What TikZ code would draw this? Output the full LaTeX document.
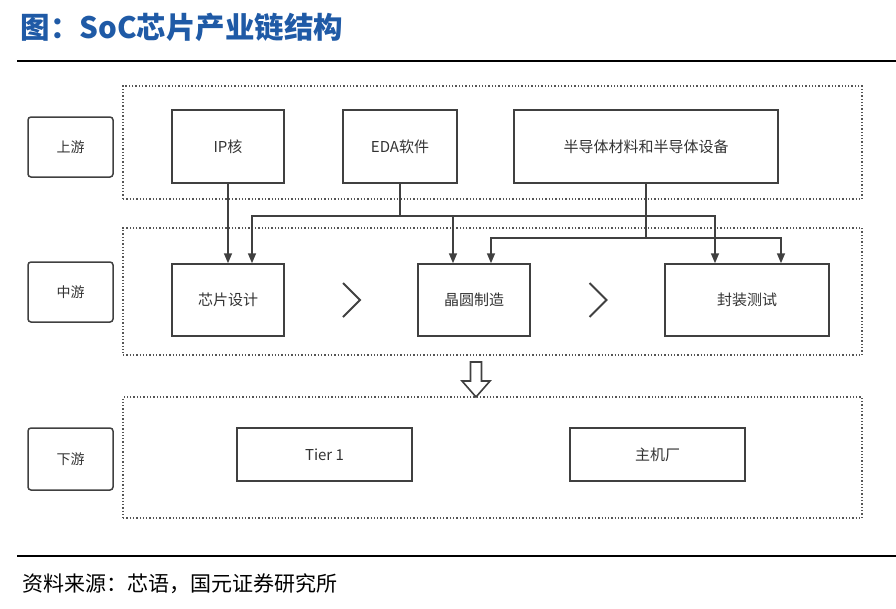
\documentclass[tikz,border=0pt]{standalone}
\usepackage{fontspec}
\setmainfont{Noto Sans CJK SC}
\usetikzlibrary{arrows.meta, calc}

\tikzset{
    levelBox/.style={draw=boxColour, line width=1.5pt, rounded corners=3pt, minimum width=85pt, minimum height=60pt, inner sep=0pt, text=textColour, font=\fontsize{14}{16}\selectfont},
    itemBox/.style={draw=boxColour, line width=1.5pt, minimum height=73pt, inner sep=0pt, text=textColour, font=\fontsize{15}{18}\selectfont},
    regionBox/.style={draw=regionColour, dotted, line width=1.3pt, inner sep=0pt},
    wire/.style={draw=boxColour, line width=1.6pt},
    feed/.style={wire, -{Triangle[length=10pt,width=8pt]}}
}

\begin{document}
\begin{tikzpicture}[x=1pt, y=-1pt]
    % Define colours
    \definecolor{titleColour}{HTML}{1F5AA6}
    \definecolor{boxColour}{HTML}{404040}
    \definecolor{textColour}{HTML}{333333}
    \definecolor{regionColour}{HTML}{555555}

    \useasboundingbox (0,0) rectangle (896,608);

    % Title and rules
    \node[anchor=west, text=titleColour, font=\fontsize{29.5}{32}\selectfont\bfseries] (title) at (17,27) {图：SoC芯片产业链结构};
    \draw[line width=2pt] (17,61) -- (896,61);
    \draw[line width=2pt] (17,556) -- (896,556);
    \node[anchor=west, font=\fontsize{21}{24}\selectfont] (source) at (19,584) {资料来源：芯语，国元证券研究所};

    % Dotted regions
    \node[regionBox, minimum width=739pt, minimum height=113pt] (upRegion) at (492.5,142.5) {};
    \node[regionBox, minimum width=739pt, minimum height=127pt] (midRegion) at (492.5,291.5) {};
    \node[regionBox, minimum width=739pt, minimum height=121pt] (downRegion) at (492.5,457.5) {};

    % Level labels
    \node[levelBox] (upstream) at (70.5,147) {上游};
    \node[levelBox] (midstream) at (70.5,292) {中游};
    \node[levelBox, minimum height=62pt] (downstream) at (70.5,459) {下游};

    % Upstream
    \node[itemBox, minimum width=112pt] (ipcore) at (228,146.5) {IP核};
    \node[itemBox, minimum width=114pt] (eda) at (400,146.5) {EDA软件};
    \node[itemBox, minimum width=264pt] (semi) at (646,146.5) {半导体材料和半导体设备};

    % Midstream
    \node[itemBox, minimum width=112pt, minimum height=72pt] (design) at (228,300) {芯片设计};
    \node[itemBox, minimum width=112pt, minimum height=72pt] (wafer) at (474,300) {晶圆制造};
    \node[itemBox, minimum width=164pt, minimum height=72pt] (pack) at (747,300) {封装测试};

    % Downstream
    \node[itemBox, minimum width=175pt, minimum height=53pt] (tier) at (324.5,454.5) {Tier 1};
    \node[itemBox, minimum width=175pt, minimum height=53pt] (oem) at (657.5,454.5) {主机厂};

    % Supply lines
    \coordinate (edaBus) at (400,216);
    \coordinate (semiBus) at (646,238);
    \draw[feed] (ipcore.south) -- (ipcore.south |- design.north);
    \draw[wire] (eda.south) -- (edaBus);
    \draw[feed] (edaBus) -| ([xshift=24pt]design.north);
    \draw[feed] (edaBus) -| ([xshift=-21pt]wafer.north);
    \draw[feed] (edaBus) -| ([xshift=-32pt]pack.north);
    \draw[wire] (semi.south) -- (semiBus);
    \draw[feed] (semiBus) -| ([xshift=17pt]wafer.north);
    \draw[feed] (semiBus) -| ([xshift=34pt]pack.north);

    % Process chevrons
    \coordinate (stepA) at ($(design.east)!0.5!(wafer.west)$);
    \coordinate (stepB) at ($(wafer.east)!0.5!(pack.west)$);
    \foreach \c in {stepA, stepB}
        \draw[wire, line width=1.8pt] ([shift={(-8,-17)}]\c) -- ([shift={(9,0)}]\c) -- ([shift={(-8,17)}]\c);

    % Hollow arrow down to downstream
    \coordinate (flowDown) at (476,380);
    \draw[wire, fill=white] ([shift={(-5.5,-18)}]flowDown) -- ([shift={(5.5,-18)}]flowDown) -- ([shift={(5.5,1)}]flowDown)
        -- ([shift={(14,1)}]flowDown) -- ([shift={(0,17)}]flowDown) -- ([shift={(-14,1)}]flowDown)
        -- ([shift={(-5.5,1)}]flowDown) -- cycle;

\end{tikzpicture}
\end{document}
